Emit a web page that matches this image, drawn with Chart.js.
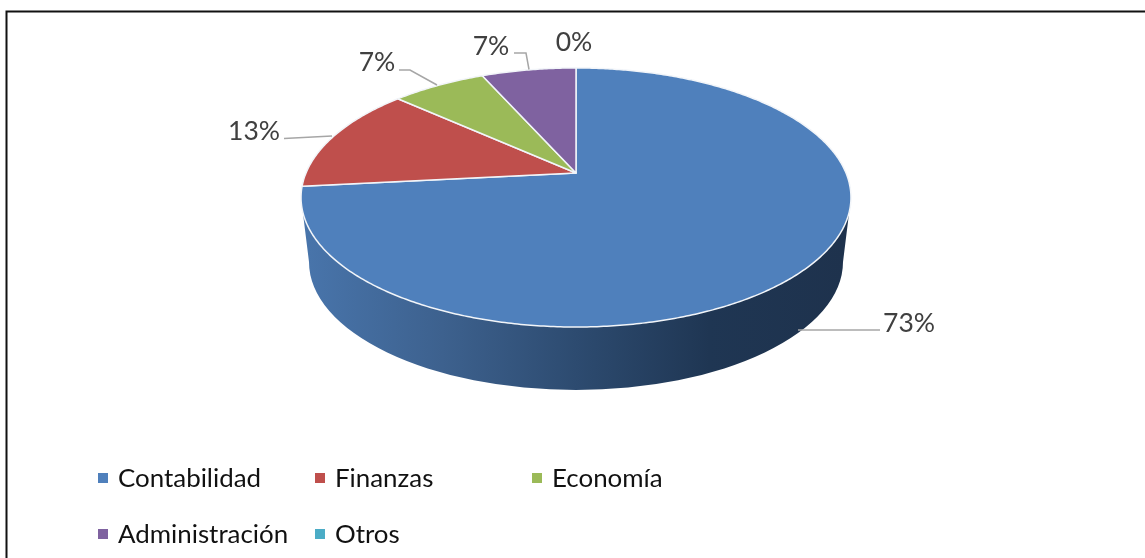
<!DOCTYPE html>
<html>
<head>
<meta charset="utf-8">
<script src="https://cdn.jsdelivr.net/npm/chart.js@4/dist/chart.umd.js"></script>
<style>html,body{margin:0;padding:0;background:#fff}canvas{display:block}</style>
</head>
<body>
<canvas id="c" width="1145" height="558"></canvas>
<script>
const categories = ["Contabilidad", "Finanzas", "Economía", "Administración", "Otros"];
const counts = [11, 2, 1, 1, 0];
const colors = ["#4f80bc", "#bf4f4c", "#9bba58", "#7f62a0", "#4bacc6"];

// presentation only
const labelCenters = [[909, 323], [254, 131], [377, 62], [491, 46], [574, 42]];
const leaders = [
  [[798, 330], [880, 330]],
  [[284, 138.5], [332, 136]],
  [[399, 70], [410, 70], [437, 85]],
  [[514, 53], [526, 53], [529, 69.5]],
  []
];
const legendCells = [[98, 479], [315, 479], [532, 479], [98, 535], [315, 535]];
const PERSP = 0.189, KX = 270 / 105, KY = 124.9 / 105;

function project(arc, angle) {
  const R = arc.outerRadius, u = Math.cos(angle), v = -Math.sin(angle), d = 1 + PERSP * v;
  return [arc.x + KX * R * u / d, arc.y - KY * R * v / d];
}

// Tilted, perspective drawing of the library's own arc elements
const ArcEl = Chart.registry.getElement('arc');
ArcEl.prototype.draw = function (ctx) {
  const span = this.endAngle - this.startAngle;
  if (span <= 0) return;
  const steps = Math.max(2, Math.ceil(span / 0.01));
  ctx.save();
  ctx.beginPath();
  if (span < Math.PI * 2 - 1e-6) ctx.moveTo(this.x, this.y);
  for (let i = 0; i <= steps; i++) {
    const p = project(this, this.startAngle + span * i / steps);
    ctx.lineTo(p[0], p[1]);
  }
  ctx.closePath();
  ctx.fillStyle = this.options.backgroundColor;
  ctx.fill();
  ctx.strokeStyle = "#f2f5f9";
  ctx.lineWidth = 1.5;
  ctx.lineJoin = "round";
  ctx.stroke();
  ctx.restore();
};

const framePlugin = {
  id: 'frame',
  beforeDraw(chart) {
    const c = chart.ctx;
    c.save();
    c.strokeStyle = "#111";
    c.lineWidth = 2;
    c.beginPath();
    c.moveTo(6.5, 558);
    c.lineTo(6.5, 11.5);
    c.lineTo(1145, 11.5);
    c.stroke();
    c.restore();
  }
};

const wallPlugin = {
  id: 'wall',
  beforeDatasetsDraw(chart) {
    const arc = chart.getDatasetMeta(0).data[0];
    const c = chart.ctx, x = arc.x, y = arc.y;
    const g = c.createLinearGradient(x - 267, 0, x + 267, 0);
    g.addColorStop(0, "#4874aa");
    g.addColorStop(0.25, "#3d618e");
    g.addColorStop(0.5, "#2d4b70");
    g.addColorStop(0.75, "#1f3653");
    g.addColorStop(1, "#1e324d");
    c.save();
    c.beginPath();
    c.moveTo(x - 275, y + 24.5);
    c.lineTo(x - 267, y + 89);
    c.ellipse(x, y + 89, 267, 128, 0, Math.PI, 0, true);
    c.lineTo(x + 275, y + 24.5);
    c.closePath();
    c.fillStyle = g;
    c.fill();
    c.restore();
  }
};

const labelPlugin = {
  id: 'labelsAndLegend',
  afterDatasetsDraw(chart) {
    const c = chart.ctx;
    const values = chart.data.datasets[0].data;
    const total = values.reduce((a, b) => a + b, 0);
    c.save();
    c.strokeStyle = "#a6a6a6";
    c.lineWidth = 1.5;
    leaders.forEach(l => {
      if (!l.length) return;
      c.beginPath();
      l.forEach((p, i) => i ? c.lineTo(p[0], p[1]) : c.moveTo(p[0], p[1]));
      c.stroke();
    });
    c.font = "26.5px Lato, Carlito, sans-serif";
    c.fillStyle = "#404040";
    c.textAlign = "center";
    c.textBaseline = "middle";
    values.forEach((v, i) => {
      c.fillText(Math.round(v / total * 100) + "%", labelCenters[i][0], labelCenters[i][1]);
    });
    c.font = "25.9px Lato, Carlito, sans-serif";
    c.textAlign = "left";
    chart.data.labels.forEach((t, i) => {
      const [lx, ly] = legendCells[i];
      c.fillStyle = chart.data.datasets[0].backgroundColor[i];
      c.fillRect(lx, ly - 6, 10, 10);
      c.fillStyle = "#111";
      c.fillText(t, lx + 20, ly);
    });
    c.restore();
  }
};

new Chart(document.getElementById('c'), {
  type: 'pie',
  data: {
    labels: categories,
    datasets: [{ data: counts, backgroundColor: colors, borderWidth: 0 }]
  },
  options: {
    responsive: false,
    animation: false,
    layout: { padding: { left: 471, right: 464, top: 68, bottom: 280 } },
    plugins: { legend: { display: false }, tooltip: { enabled: false } }
  },
  plugins: [framePlugin, wallPlugin, labelPlugin]
});
</script>
</body>
</html>
